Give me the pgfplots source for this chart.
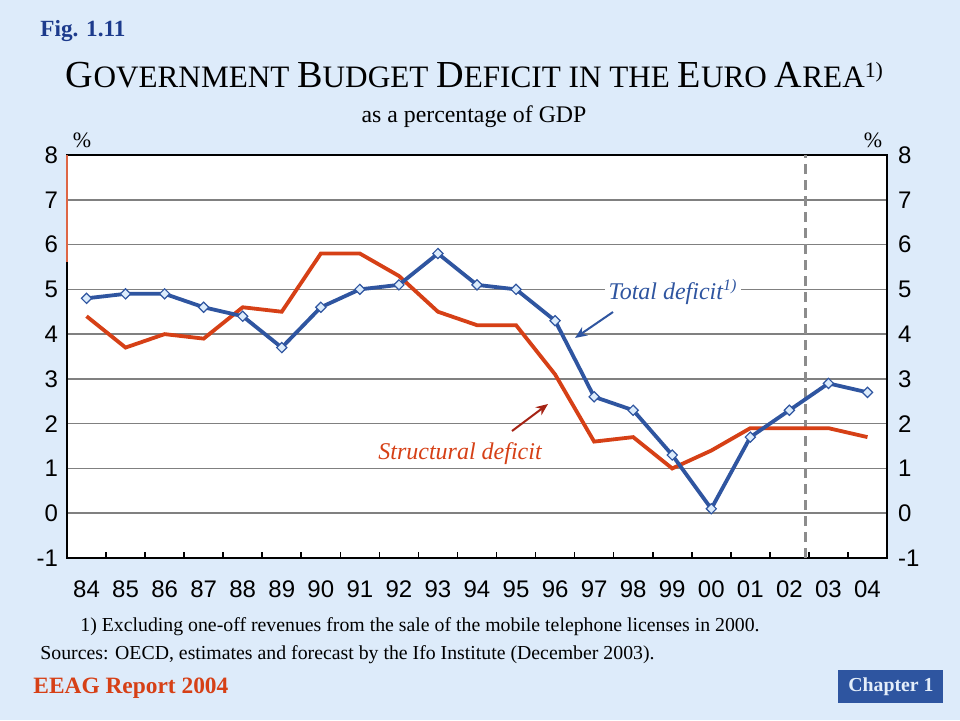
\documentclass[border=0pt]{standalone}
\usepackage{pgfplots}
\pgfplotsset{compat=1.18}
\usepackage{pgfplotstable}
\usepackage{fontspec}
\setmainfont{Liberation Serif}
\newfontfamily\arial{Liberation Sans}
\usetikzlibrary{arrows.meta}
\definecolor{bg}{RGB}{221,235,250}
\definecolor{tblue}{RGB}{47,85,160}
\definecolor{sred}{RGB}{214,64,22}
\definecolor{dred}{RGB}{165,35,20}
\definecolor{figblue}{RGB}{28,58,140}
\definecolor{mfill}{RGB}{220,236,252}
\definecolor{gridgray}{RGB}{128,128,128}
\definecolor{dashgray}{RGB}{140,140,140}
\definecolor{chapblue}{RGB}{46,85,160}
\definecolor{chaptext}{RGB}{228,238,250}

\pgfplotstableread{
idx total structural
0  4.8 4.4
1  4.9 3.7
2  4.9 4.0
3  4.6 3.9
4  4.4 4.6
5  3.7 4.5
6  4.6 5.8
7  5.0 5.8
8  5.1 5.3
9  5.8 4.5
10 5.1 4.2
11 5.0 4.2
12 4.3 3.1
13 2.6 1.6
14 2.3 1.7
15 1.3 1.0
16 0.1 1.4
17 1.7 1.9
18 2.3 1.9
19 2.9 1.9
20 2.7 1.7
}\deficit

\newcommand{\BC}[1]{{\fontsize{19.1}{22}\selectfont #1}}

\begin{document}
\begin{tikzpicture}[x=0.5pt,y=-0.5pt]
\fill[bg] (0,0) rectangle (960,720);
\useasboundingbox (0,0) rectangle (960,720);

\node[anchor=west, text=figblue, font=\fontsize{11.6}{13}\selectfont\bfseries, inner sep=0] at (40,31) {Fig. 1.11};
\node[anchor=center, inner sep=0, font=\fontsize{15.6}{18}\selectfont] at (475,75)
  {\BC{G}OVERNMENT \BC{B}UDGET \BC{D}EFICIT IN THE \BC{E}URO \BC{A}REA\textsuperscript{1)}};
\node[anchor=center, inner sep=0, font=\fontsize{11.9}{14}\selectfont] at (474,117) {as a percentage of GDP};
\node[anchor=center, inner sep=0, font=\fontsize{11}{13}\selectfont] at (82,140) {\%};
\node[anchor=center, inner sep=0, font=\fontsize{11}{13}\selectfont] at (873,140) {\%};

\begin{axis}[
  at={(33.5pt,-279pt)}, anchor=south west,
  scale only axis, width=410pt, height=201.5pt,
  xmin=-0.5, xmax=20.5, ymin=-1, ymax=8,
  axis background/.style={fill=white},
  xtick={0,...,20},
  xticklabels={84,85,86,87,88,89,90,91,92,93,94,95,96,97,98,99,00,01,02,03,04},
  minor xtick={0.5,1.5,...,19.5},
  xtick pos=bottom, tick align=inside,
  major x tick style={draw=none},
  minor tick length=3pt,
  minor tick style={black, line width=0.8pt},
  ytick={-1,0,...,8},
  yticklabels={-1,0,1,2,3,4,5,6,7,8},
  ytick style={draw=none},
  ymajorgrids,
  grid style={gridgray, line width=0.8pt},
  axis line style={black, line width=0.9pt},
  ticklabel style={font=\arial\fontsize{12}{14}\selectfont},
  xticklabel style={yshift=-8pt},
  yticklabel style={xshift=-1pt},
  clip=false,
]
\addplot[dashgray, line width=1.5pt, dash pattern=on 5pt off 3pt] coordinates {(18.42,-1) (18.42,8)};
\addplot[sred!80!white, line width=0.6pt] coordinates {(-0.5,8) (-0.5,5.6)};
\addplot[sred, line width=1.9pt] table[x=idx, y=structural] {\deficit};
\addplot[tblue, line width=1.9pt, mark=square*, mark size=1.8pt,
  mark options={rotate=45, fill=mfill, draw=tblue, line width=0.6pt}] table[x=idx, y=total] {\deficit};
\end{axis}

\begin{axis}[
  at={(33.5pt,-279pt)}, anchor=south west,
  scale only axis, width=410pt, height=201.5pt,
  xmin=-0.5, xmax=20.5, ymin=-1, ymax=8,
  axis x line=none, axis y line*=right,
  axis line style={draw=none},
  ytick={-1,0,...,8},
  yticklabels={-1,0,1,2,3,4,5,6,7,8},
  ytick style={draw=none},
  ticklabel style={font=\arial\fontsize{12}{14}\selectfont},
  yticklabel style={xshift=2pt},
]
\end{axis}

% annotations
\node[fill=white, inner xsep=2pt, inner ysep=1pt, text=tblue, font=\fontsize{12}{14}\selectfont\itshape] at (673,292) {Total deficit\textsuperscript{1)}};
\draw[tblue, line width=1pt, -{Stealth[length=6pt,width=5pt]}] (613,312) -- (575,338);
\node[inner sep=0, text=sred, font=\fontsize{12}{14}\selectfont\itshape] at (460,454) {Structural deficit};
\draw[dred, line width=1pt, -{Stealth[length=6pt,width=5pt]}] (512,431) -- (548,404);

% footer
\node[anchor=west, inner sep=0, font=\fontsize{9.9}{12}\selectfont] at (80,627) {1) Excluding one-off revenues from the sale of the mobile telephone licenses in 2000.};
\node[anchor=west, inner sep=0, font=\fontsize{9.9}{12}\selectfont] at (40,655) {Sources: OECD, estimates and forecast by the Ifo Institute (December 2003).};
\node[anchor=west, inner sep=0, text=sred, font=\fontsize{11.7}{14}\selectfont\bfseries] at (33,688) {EEAG Report 2004};
\fill[chapblue] (838,670) rectangle (943,703);
\node[inner sep=0, text=chaptext, font=\fontsize{9.9}{12}\selectfont\bfseries] at (891,687) {Chapter 1};
\end{tikzpicture}
\end{document}
